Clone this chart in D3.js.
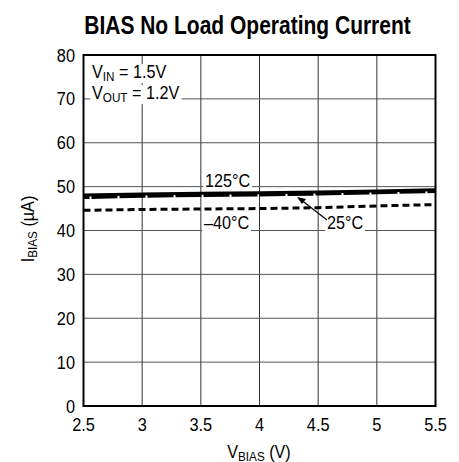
<!DOCTYPE html>
<html>
<head>
<script src="https://cdn.jsdelivr.net/npm/d3@7/dist/d3.min.js"></script>
<style>
  body { margin: 0; background: #fff; }
  svg { display: block; font-family: "Liberation Sans", Arial, sans-serif; }
</style>
</head>
<body>
<svg id="chart" width="459" height="462"></svg>
<script>
// data
var vbias = [2.5, 3, 3.5, 4, 4.5, 5, 5.5];
var i125 = [48.1, 48.3, 48.5, 48.6, 48.8, 49.0, 49.3];
var i25 = [47.5, 47.8, 48.0, 48.1, 48.3, 48.6, 48.9];
var im40 = [44.6, 44.8, 44.9, 45.0, 45.2, 45.6, 45.9];
var xTicks = [2.5, 3, 3.5, 4, 4.5, 5, 5.5];
var yTicks = [0, 10, 20, 30, 40, 50, 60, 70, 80];

var pLeft = 83.5, pRight = 435.5, pTop = 55, pBottom = 406;
var svg = d3.select("#chart");
var x = d3.scaleLinear().domain([2.5, 5.5]).range([pLeft, pRight]);
var y = d3.scaleLinear().domain([0, 80]).range([pBottom, pTop]);

// condensed text: a group moved to (tx,ty) and squeezed horizontally
function ctext(parent, tx, ty, size, sx, anchor) {
  var g = parent.append("g").attr("transform", "translate(" + tx + "," + ty + ") scale(" + sx + ",1)");
  return g.append("text").attr("font-size", size).attr("text-anchor", anchor || "start");
}

// title
ctext(svg, 247.5, 34, 25, 0.84, "middle").attr("font-weight", "bold").text("BIAS No Load Operating Current");

// grid
var grid = svg.append("g");
grid.selectAll(".vx").data(xTicks.slice(1, -1)).enter().append("line")
  .attr("x1", function(d){return x(d);}).attr("x2", function(d){return x(d);})
  .attr("y1", pTop).attr("y2", pBottom).attr("stroke", "#333").attr("stroke-width", 1);
grid.selectAll(".hy").data(yTicks.slice(1, -1)).enter().append("line")
  .attr("x1", pLeft).attr("x2", pRight)
  .attr("y1", function(d){return y(d);}).attr("y2", function(d){return y(d);})
  .attr("stroke", "#555").attr("stroke-width", 1);

// curves
var line = d3.line().x(function(d){return x(d[0]);}).y(function(d){return y(d[1]);});
function pts(arr){ return vbias.map(function(v, i){return [v, arr[i]];}); }
svg.append("path").attr("d", line(pts(im40))).attr("fill", "none").attr("stroke", "#000")
  .attr("stroke-width", 3).attr("stroke-dasharray", "7,4");
svg.append("path").attr("d", line(pts(i125))).attr("fill", "none").attr("stroke", "#000")
  .attr("stroke-width", 3);
svg.append("path").attr("d", line(pts(i25))).attr("fill", "none").attr("stroke", "#000")
  .attr("stroke-width", 3).attr("stroke-dasharray", "26,2").attr("stroke-dashoffset", -8);

// labels with white backing
function label(tx, ty, parts) {
  var g = svg.append("g");
  var t = ctext(g, tx, ty, 18, 0.9);
  parts.forEach(function(p){
    var s = t.append("tspan").text(p[0]);
    if (p[1] === "sub") s.attr("font-size", 13).attr("dy", 3);
    if (p[1] === "up") s.attr("dy", -3);
  });
  var b = t.node().getBBox();
  g.insert("rect", ":first-child")
    .attr("x", tx + (b.x - 2) * 0.9).attr("y", ty + b.y + 2)
    .attr("width", (b.width + 4) * 0.9).attr("height", b.height - 3)
    .attr("fill", "#fff");
  return t;
}
label(92, 78, [["V"], ["IN", "sub"], [" = 1.5V", "up"]]);
label(92, 99, [["V"], ["OUT", "sub"], [" = 1.2V", "up"]]);
label(205, 187, [["125°C"]]);
label(204, 229, [["\u201340°C"]]);
label(327, 229, [["25°C"]]);

// arrow for 25°C
svg.append("line").attr("x1", 327).attr("y1", 220).attr("x2", 300).attr("y2", 199)
  .attr("stroke", "#000").attr("stroke-width", 1.2);
svg.append("path").attr("d", "M297,197 L306,199 L302,204 Z").attr("fill", "#000");

// frame
svg.append("rect").attr("x", pLeft).attr("y", pTop).attr("width", pRight - pLeft).attr("height", pBottom - pTop)
  .attr("fill", "none").attr("stroke", "#000").attr("stroke-width", 2);

// tick labels
yTicks.forEach(function(d){
  ctext(svg, 75, y(d) + 6.5, 19, 0.86, "end").text(d);
});
xTicks.forEach(function(d){
  ctext(svg, x(d), 431, 19, 0.86, "middle").text(d);
});

// axis titles
var xt = ctext(svg, 259, 458, 18, 0.9, "middle");
xt.append("tspan").text("V");
xt.append("tspan").text("BIAS").attr("font-size", 13).attr("dy", 3);
xt.append("tspan").text(" (V)").attr("dy", -3);
var yg = svg.append("g").attr("transform", "translate(33.5,229) rotate(-90)");
var yt = ctext(yg, 0, 0, 18, 0.9, "middle");
yt.append("tspan").text("I");
yt.append("tspan").text("BIAS").attr("font-size", 13).attr("dy", 3);
yt.append("tspan").text(" (\u00b5A)").attr("dy", -3);
</script>
</body>
</html>
